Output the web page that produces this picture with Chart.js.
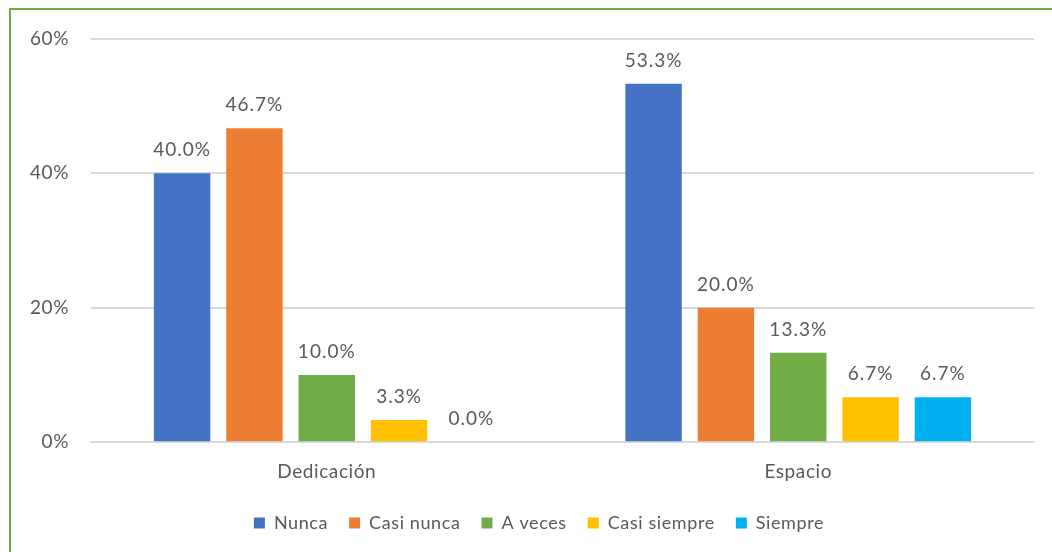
<!DOCTYPE html>
<html>
<head>
<meta charset="utf-8">
<script src="https://cdn.jsdelivr.net/npm/chart.js@4"></script>
<style>
  html, body { margin: 0; padding: 0; background: #fff; overflow: hidden; }
  #wrap { position: relative; width: 1052px; height: 552px; }
  #frame { position: absolute; left: 9px; top: 8px; width: 1100px; height: 600px;
           border-left: 2px solid #70AD47; border-top: 2px solid #70AD47; box-sizing: border-box; }
  canvas { position: absolute; left: 0; top: 0; }
</style>
</head>
<body>
<div id="wrap">
  <div id="frame"></div>
  <canvas id="c" width="1052" height="552"></canvas>
</div>
<script>
const categories = ["Dedicación", "Espacio"];
const seriesNames = ["Nunca", "Casi nunca", "A veces", "Casi siempre", "Siempre"];
const nunca = [40.0, 53.3];
const casiNunca = [46.7, 20.0];
const aVeces = [10.0, 13.3];
const casiSiempre = [3.3, 6.7];
const siempre = [0.0, 6.7];
const yTicks = [0, 20, 40, 60];
const seriesColors = ["#4472C4", "#ED7D31", "#70AD47", "#FFC000", "#00B0F0"];

const seriesValues = [nunca, casiNunca, aVeces, casiSiempre, siempre];
const FONT = "Lato, 'Open Sans', sans-serif";
const TEXT = "#595959";
const SPACING = "0.6px";
const LEGEND_SHIFT = 22;

const spacingPlugin = {
  id: 'spacing',
  beforeLayout(chart) { chart.ctx.letterSpacing = SPACING; },
  afterLayout(chart) {
    if (chart.legend) {
      chart.legend.left += LEGEND_SHIFT;
      chart.legend.right += LEGEND_SHIFT;
    }
  },
  beforeDraw(chart) { chart.ctx.letterSpacing = SPACING; }
};

const labelPlugin = {
  id: 'valueLabels',
  afterDatasetsDraw(chart) {
    const ctx = chart.ctx;
    ctx.save();
    ctx.letterSpacing = "1px";
    ctx.font = "19px " + FONT;
    ctx.fillStyle = TEXT;
    ctx.textAlign = "center";
    ctx.textBaseline = "middle";
    chart.data.datasets.forEach((ds, i) => {
      const meta = chart.getDatasetMeta(i);
      meta.data.forEach((bar, j) => {
        ctx.fillText(ds.data[j].toFixed(1) + "%", bar.x, bar.y - 23);
      });
    });
    ctx.restore();
  }
};

new Chart(document.getElementById("c"), {
  type: "bar",
  data: {
    labels: categories,
    datasets: seriesNames.map((n, i) => ({
      label: n,
      data: seriesValues[i],
      backgroundColor: seriesColors[i],
      borderWidth: 0,
      barPercentage: 0.78,
      categoryPercentage: 0.767
    }))
  },
  options: {
    responsive: false,
    animation: false,
    devicePixelRatio: 1,
    layout: { padding: { left: 0, right: 18, top: 38.7, bottom: 10 } },
    plugins: {
      legend: {
        position: "bottom",
        labels: {
          font: { family: FONT, size: 18 },
          color: TEXT,
          boxWidth: 11,
          boxHeight: 11,
          padding: 21
        }
      },
      tooltip: { enabled: false }
    },
    scales: {
      x: {
        grid: { display: false },
        border: { display: true, color: "#D9D9D9", width: 2 },
        ticks: { font: { family: FONT, size: 19 }, color: TEXT, padding: 10 }
      },
      y: {
        min: 0,
        max: 60,
        afterFit(scale) { scale.width = 91; },
        afterBuildTicks(scale) { scale.ticks = yTicks.map(v => ({ value: v })); },
        grid: { color: "#D9D9D9", lineWidth: 2, drawTicks: false },
        border: { display: false },
        ticks: {
          font: { family: FONT, size: 19 },
          color: TEXT,
          padding: 22,
          callback: v => v + "%"
        }
      }
    }
  },
  plugins: [spacingPlugin, labelPlugin]
});
</script>
</body>
</html>
